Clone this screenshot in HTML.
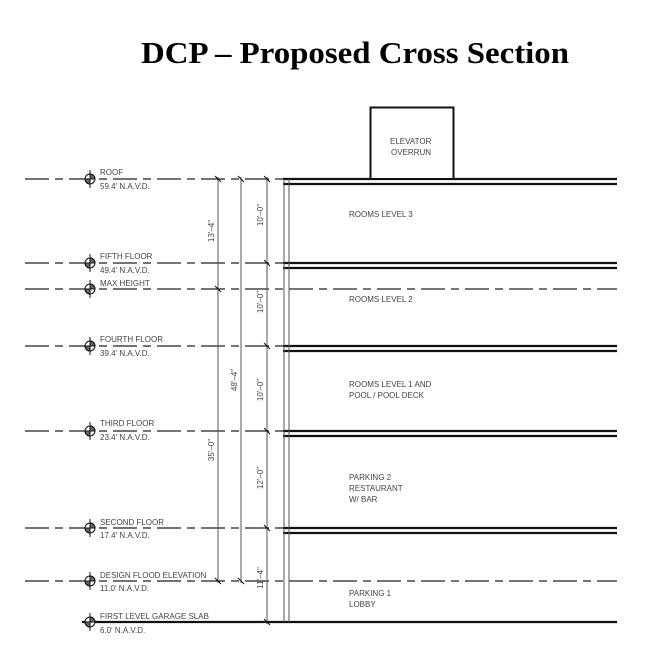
<!DOCTYPE html>
<html><head><style>
body{margin:0;background:#fff}
svg{display:block}
.t{font-family:"Liberation Sans",sans-serif;font-size:8px;fill:#444}
</style></head><body>
<svg width="651" height="654" viewBox="0 0 651 654" xmlns="http://www.w3.org/2000/svg">
<text x="141" y="63" textLength="428" lengthAdjust="spacingAndGlyphs" font-family="Liberation Serif" font-weight="bold" font-size="31" fill="#000">DCP – Proposed Cross Section</text>
<g stroke="#222" stroke-width="1.2" fill="none" stroke-dasharray="24 6 8 6">
<line x1="25" y1="179" x2="285" y2="179"/>
<line x1="25" y1="263" x2="285" y2="263"/>
<line x1="25" y1="289" x2="617" y2="289"/>
<line x1="25" y1="346" x2="285" y2="346"/>
<line x1="25" y1="431" x2="285" y2="431"/>
<line x1="25" y1="528" x2="285" y2="528"/>
<line x1="25" y1="581" x2="617" y2="581"/>
</g>
<line x1="82" y1="622" x2="617" y2="622" stroke="#111" stroke-width="2.2"/>
<g stroke="#111" stroke-width="2.2">
<line x1="283" y1="179" x2="617" y2="179"/><line x1="283" y1="184" x2="617" y2="184"/>
<line x1="283" y1="263" x2="617" y2="263"/><line x1="283" y1="268" x2="617" y2="268"/>
<line x1="283" y1="346" x2="617" y2="346"/><line x1="283" y1="351" x2="617" y2="351"/>
<line x1="283" y1="431" x2="617" y2="431"/><line x1="283" y1="436" x2="617" y2="436"/>
<line x1="283" y1="528" x2="617" y2="528"/><line x1="283" y1="533" x2="617" y2="533"/>
</g>
<g stroke="#555" stroke-width="1">
<line x1="284" y1="179" x2="284" y2="622"/><line x1="289" y1="179" x2="289" y2="622"/>
<line x1="218" y1="177" x2="218" y2="583"/>
<line x1="241" y1="177" x2="241" y2="583"/>
<line x1="267" y1="177" x2="267" y2="624"/>
</g>
<g stroke="#111" stroke-width="1">
<path d="M215 176l6 6M215 286l6 6M215 578l6 6M238 176l6 6M238 578l6 6M264 176l6 6M264 260l6 6M264 343l6 6M264 428l6 6M264 525l6 6M264 619l6 6"/>
</g>
<rect x="370.5" y="107.5" width="83" height="71.5" fill="#fff" stroke="#111" stroke-width="2"/>
<text class="t" x="390" y="144">ELEVATOR</text><text class="t" x="391" y="155">OVERRUN</text>
<g stroke="#111" stroke-width="1">
<g transform="translate(90,179)"><circle r="5" fill="#fff"/><path d="M0 0V5A5 5 0 0 1-5 0Z" fill="#666"/><path d="M0 0V-5A5 5 0 0 1 5 0Z" fill="#666"/><line x1="0" y1="-9" x2="0" y2="9"/></g>
<g transform="translate(90,263)"><circle r="5" fill="#fff"/><path d="M0 0V5A5 5 0 0 1-5 0Z" fill="#666"/><path d="M0 0V-5A5 5 0 0 1 5 0Z" fill="#666"/><line x1="0" y1="-9" x2="0" y2="9"/></g>
<g transform="translate(90,289)"><circle r="5" fill="#fff"/><path d="M0 0V5A5 5 0 0 1-5 0Z" fill="#666"/><path d="M0 0V-5A5 5 0 0 1 5 0Z" fill="#666"/><line x1="0" y1="-9" x2="0" y2="9"/></g>
<g transform="translate(90,346)"><circle r="5" fill="#fff"/><path d="M0 0V5A5 5 0 0 1-5 0Z" fill="#666"/><path d="M0 0V-5A5 5 0 0 1 5 0Z" fill="#666"/><line x1="0" y1="-9" x2="0" y2="9"/></g>
<g transform="translate(90,431)"><circle r="5" fill="#fff"/><path d="M0 0V5A5 5 0 0 1-5 0Z" fill="#666"/><path d="M0 0V-5A5 5 0 0 1 5 0Z" fill="#666"/><line x1="0" y1="-9" x2="0" y2="9"/></g>
<g transform="translate(90,528)"><circle r="5" fill="#fff"/><path d="M0 0V5A5 5 0 0 1-5 0Z" fill="#666"/><path d="M0 0V-5A5 5 0 0 1 5 0Z" fill="#666"/><line x1="0" y1="-9" x2="0" y2="9"/></g>
<g transform="translate(90,581)"><circle r="5" fill="#fff"/><path d="M0 0V5A5 5 0 0 1-5 0Z" fill="#666"/><path d="M0 0V-5A5 5 0 0 1 5 0Z" fill="#666"/><line x1="0" y1="-9" x2="0" y2="9"/></g>
<g transform="translate(90,622)"><circle r="5" fill="#fff"/><path d="M0 0V5A5 5 0 0 1-5 0Z" fill="#666"/><path d="M0 0V-5A5 5 0 0 1 5 0Z" fill="#666"/><line x1="0" y1="-9" x2="0" y2="9"/></g>
</g>
<g class="t">
<text x="100" y="175">ROOF</text><text x="100" y="189">59.4' N.A.V.D.</text>
<text x="100" y="259">FIFTH FLOOR</text><text x="100" y="273">49.4' N.A.V.D.</text>
<text x="100" y="286">MAX HEIGHT</text>
<text x="100" y="342">FOURTH FLOOR</text><text x="100" y="356">39.4' N.A.V.D.</text>
<text x="100" y="426">THIRD FLOOR</text><text x="100" y="440">23.4' N.A.V.D.</text>
<text x="100" y="525">SECOND FLOOR</text><text x="100" y="538">17.4' N.A.V.D.</text>
<text x="100" y="578">DESIGN FLOOD ELEVATION</text><text x="100" y="591">11.0' N.A.V.D.</text>
<text x="100" y="619">FIRST LEVEL GARAGE SLAB</text><text x="100" y="633">6.0' N.A.V.D.</text>
<text x="349" y="217">ROOMS  LEVEL  3</text>
<text x="349" y="302">ROOMS  LEVEL  2</text>
<text x="349" y="387">ROOMS  LEVEL  1  AND</text><text x="349" y="398">POOL  /  POOL  DECK</text>
<text x="349" y="480">PARKING  2</text><text x="349" y="491">RESTAURANT</text><text x="349" y="502">W/  BAR</text>
<text x="349" y="596">PARKING  1</text><text x="349" y="607">LOBBY</text>
<text transform="translate(214,231) rotate(-90)" text-anchor="middle">13'–4"</text>
<text transform="translate(214,450) rotate(-90)" text-anchor="middle">35'–0"</text>
<text transform="translate(237,380) rotate(-90)" text-anchor="middle">48'–4"</text>
<text transform="translate(263,215) rotate(-90)" text-anchor="middle">10'–0"</text>
<text transform="translate(263,302) rotate(-90)" text-anchor="middle">10'–0"</text>
<text transform="translate(263,390) rotate(-90)" text-anchor="middle">10'–0"</text>
<text transform="translate(263,478) rotate(-90)" text-anchor="middle">12'–0"</text>
<text transform="translate(263,578) rotate(-90)" text-anchor="middle">11'–4"</text>
</g>
</svg>
</body></html>
